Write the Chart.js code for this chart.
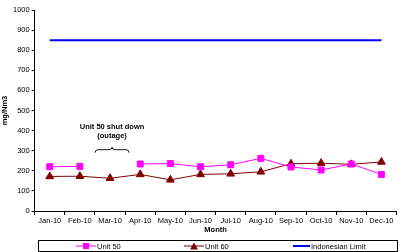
<!DOCTYPE html>
<html><head><meta charset="utf-8">
<script src="https://cdn.jsdelivr.net/npm/chart.js@4/dist/chart.umd.min.js"></script>
<style>
html,body{margin:0;padding:0;background:#fff;}
#wrap{position:relative;width:402px;height:252px;font-family:"Liberation Sans",Arial,sans-serif;overflow:hidden;}
#legend{position:absolute;left:38px;top:240px;width:358px;height:10px;border:1px solid #000;box-sizing:content-box;font-size:7.5px;color:#000;}
.li{position:absolute;top:0;height:10px;display:flex;align-items:center;white-space:nowrap;}
.li svg{margin-right:1px;}
</style>
</head><body>
<div id="wrap"><canvas id="c" width="402" height="252"></canvas><div id="legend"></div></div>
<script>
const months = ['Jan-10','Feb-10','Mar-10','Apr-10','May-10','Jun-10','Jul-10','Aug-10','Sep-10','Oct-10','Nov-10','Dec-10'];
const unit50 = [220, 222, null, 234, 236, 220, 230, 262, 219, 204, 234, 182];
const unit60 = [172, 173, 163, 182, 155, 182, 185, 195, 235, 238, 232, 244];
const indonesianLimit = [850, 850, 850, 850, 850, 850, 850, 850, 850, 850, 850, 850];
const yTicks = [0,100,200,300,400,500,600,700,800,900,1000];
const noteLines = ['Unit 50 shut down', '(outage)'];
const noteCategory = 'Mar-10';

const FONT = '"Liberation Sans", Arial, sans-serif';
const tickFont = {family: FONT, size: 7.5};
const boldFont = {family: FONT, size: 7.5, weight: 'bold'};

const notePlugin = {
  id: 'note',
  afterDatasetsDraw(chart) {
    const ctx = chart.ctx;
    const xs = chart.scales.x, ys = chart.scales.y;
    const cx = xs.getPixelForValue(months.indexOf(noteCategory)) + 2;
    const y1 = ys.getPixelForValue(420);
    ctx.save();
    ctx.fillStyle = '#000';
    ctx.font = 'bold 7.5px ' + FONT;
    ctx.textAlign = 'center';
    ctx.textBaseline = 'middle';
    ctx.fillText(noteLines[0], cx, y1);
    ctx.fillText(noteLines[1], cx, y1 + 9);
    const by = ys.getPixelForValue(305);
    const half = 17;
    ctx.strokeStyle = '#000';
    ctx.lineWidth = 0.9;
    ctx.beginPath();
    ctx.moveTo(cx - half, by + 3);
    ctx.quadraticCurveTo(cx - half, by, cx - half + 3, by);
    ctx.lineTo(cx - 3, by);
    ctx.quadraticCurveTo(cx, by, cx, by - 2.5);
    ctx.quadraticCurveTo(cx, by, cx + 3, by);
    ctx.lineTo(cx + half - 3, by);
    ctx.quadraticCurveTo(cx + half, by, cx + half, by + 3);
    ctx.stroke();
    ctx.restore();
  }
};

const chart = new Chart(document.getElementById('c'), {
  type: 'line',
  data: {
    labels: months,
    datasets: [
      {label: 'Unit 50', data: unit50, borderColor: '#FF00FF', backgroundColor: '#FF00FF', borderWidth: 1,
       pointStyle: 'rect', pointRadius: 4.2, pointHoverRadius: 4.2, spanGaps: false, tension: 0},
      {label: 'Unit 60', data: unit60, borderColor: '#800000', backgroundColor: '#800000', borderWidth: 1,
       pointStyle: 'triangle', pointRadius: 4.5, pointHoverRadius: 4.5, tension: 0},
      {label: 'Indonesian Limit', data: indonesianLimit, borderColor: '#0000FF', backgroundColor: '#0000FF', borderWidth: 2,
       pointRadius: 0, tension: 0}
    ]
  },
  options: {
    responsive: false,
    devicePixelRatio: 1,
    animation: false,
    layout: {padding: {top: 10, right: 1, left: 0, bottom: 18}},
    plugins: {legend: {display: false}, tooltip: {enabled: false}},
    scales: {
      x: {
        offset: true,
        grid: {drawOnChartArea: false, tickLength: 4, color: '#000', offset: true, lineWidth: 1},
        border: {color: '#000', width: 1},
        ticks: {font: tickFont, color: '#000', maxRotation: 0, autoSkip: false, padding: 1},
        title: {display: true, text: 'Month', font: boldFont, color: '#000', padding: {top: -1, bottom: 0}}
      },
      y: {
        min: 0, max: 1000,
        afterBuildTicks(axis) { axis.ticks = yTicks.map(v => ({value: v})); },
        grid: {drawOnChartArea: false, tickLength: 3, color: '#000'},
        border: {color: '#000', width: 1},
        ticks: {font: tickFont, color: '#000', padding: 2, callback: v => String(v)},
        title: {display: true, text: 'mg/Nm3', font: boldFont, color: '#000', padding: {top: 0, bottom: 2}}
      }
    }
  },
  plugins: [notePlugin]
});

const legendPos = [37, 145, 254];
const lg = document.getElementById('legend');
chart.data.datasets.forEach((ds, i) => {
  const item = document.createElement('div');
  item.className = 'li';
  item.style.left = legendPos[i] + 'px';
  let marker = '';
  if (ds.pointStyle === 'rect') marker = `<rect x="7" y="2" width="6" height="6" fill="${ds.borderColor}"/>`;
  else if (ds.pointStyle === 'triangle') marker = `<polygon points="10,1.5 14,8.5 6,8.5" fill="${ds.borderColor}"/>`;
  item.innerHTML = `<svg width="${i===2?17:20}" height="10"><line x1="0" y1="5" x2="${i===2?17:20}" y2="5" stroke="${ds.borderColor}" stroke-width="${ds.borderWidth}"/>${marker}</svg><span>${ds.label}</span>`;
  lg.appendChild(item);
});
</script>
</body></html>
